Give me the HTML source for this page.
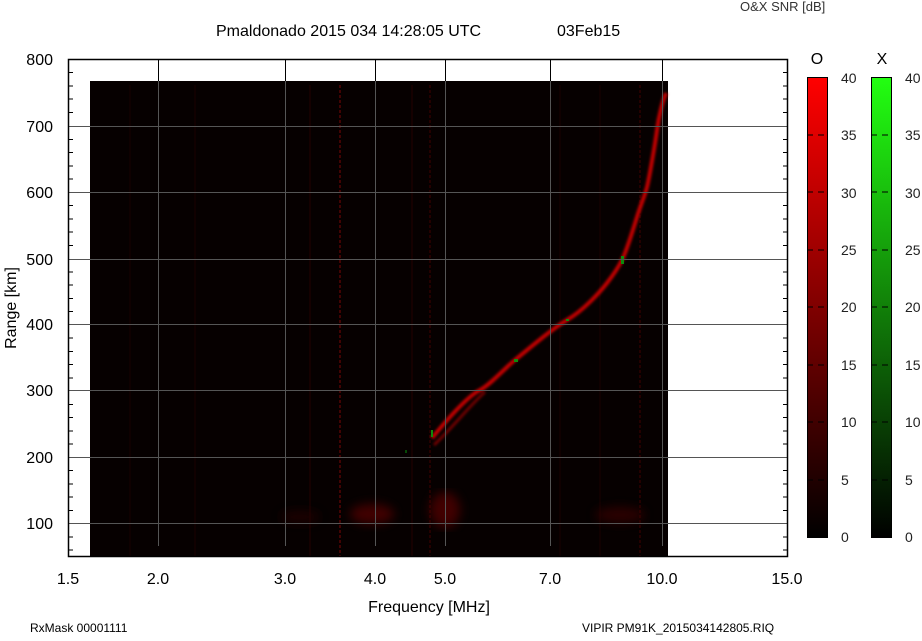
<!DOCTYPE html>
<html><head><meta charset="utf-8"><style>
body{margin:0;background:#fff;}
svg text{font-family:"Liberation Sans",Arial,sans-serif;}
</style></head><body>
<svg width="922" height="636" viewBox="0 0 922 636" xmlns="http://www.w3.org/2000/svg">
<defs>
<linearGradient id="gr" x1="0" y1="1" x2="0" y2="0"><stop offset="0" stop-color="#000"/><stop offset="1" stop-color="#ff0000"/></linearGradient>
<linearGradient id="gg" x1="0" y1="1" x2="0" y2="0"><stop offset="0" stop-color="#000"/><stop offset="1" stop-color="#22ff11"/></linearGradient>
<filter id="bl"><feGaussianBlur stdDeviation="1.2"/></filter>
<filter id="bl2"><feGaussianBlur stdDeviation="5"/></filter>
</defs>
<text x="216" y="36" font-size="16">Pmaldonado 2015 034 14:28:05 UTC</text>
<text x="557" y="36" font-size="16">03Feb15</text>
<text x="740" y="11" font-size="13" fill="#333">O&amp;X SNR [dB]</text>
<rect x="90" y="81" width="578" height="476" fill="#060000"/>
<g stroke-width="2" opacity="0.6">
<line x1="340" y1="85" x2="340" y2="557" stroke="#6a0505" stroke-dasharray="3,2"/>
<line x1="430" y1="85" x2="430" y2="557" stroke="#3a0000" stroke-dasharray="3,2"/>
<line x1="640" y1="85" x2="640" y2="557" stroke="#3a0000" stroke-dasharray="3,2"/>
<line x1="310" y1="85" x2="310" y2="557" stroke="#200000"/>
<line x1="412" y1="85" x2="412" y2="557" stroke="#200000"/>
<line x1="195" y1="85" x2="195" y2="557" stroke="#180000"/>
<line x1="130" y1="85" x2="130" y2="557" stroke="#150000"/>
<line x1="560" y1="85" x2="560" y2="557" stroke="#180000"/>
<line x1="600" y1="85" x2="600" y2="557" stroke="#180000"/>
</g>
<g filter="url(#bl2)" fill="#5a0000" opacity="0.7">
<ellipse cx="372" cy="514" rx="22" ry="10"/>
<ellipse cx="445" cy="510" rx="15" ry="18"/>
<ellipse cx="620" cy="515" rx="25" ry="8" fill="#3a0000"/>
<ellipse cx="300" cy="517" rx="20" ry="6" fill="#250000"/>
</g>
<g filter="url(#bl)" fill="none" stroke="#c00000" stroke-width="4">
<path d="M432 438 C455 410 470 395 480 390 S505 368 515 360 S550 330 567 320 S600 292 607 283 S618 268 622 260 S633 230 637 217 S645 195 647 187 S655 145 657 130 S663 100 666 93"/>
<path d="M434 445 C455 425 470 405 485 392" stroke="#700000" stroke-width="3"/>
</g>
<g fill="#0c8a0c">
<rect x="431" y="430" width="2" height="7"/><rect x="514" y="359" width="4" height="3"/><rect x="566" y="319" width="3" height="2"/><rect x="621" y="256" width="3" height="8"/><rect x="405" y="450" width="2" height="3" fill="#064a06"/>
</g>
<g stroke="#555" stroke-width="1">
<line x1="158.5" y1="59" x2="158.5" y2="546"/><line x1="285.5" y1="59" x2="285.5" y2="546"/><line x1="375.5" y1="59" x2="375.5" y2="546"/><line x1="445.5" y1="59" x2="445.5" y2="546"/><line x1="550.5" y1="59" x2="550.5" y2="546"/><line x1="662.5" y1="59" x2="662.5" y2="546"/>
<line x1="68" y1="126.5" x2="788" y2="126.5"/><line x1="68" y1="192.5" x2="788" y2="192.5"/><line x1="68" y1="259.5" x2="788" y2="259.5"/><line x1="68" y1="324.5" x2="788" y2="324.5"/><line x1="68" y1="390.5" x2="788" y2="390.5"/><line x1="68" y1="457.5" x2="788" y2="457.5"/><line x1="68" y1="523.5" x2="788" y2="523.5"/>
</g>
<g stroke="#000" stroke-width="1">
<line x1="158.5" y1="59" x2="158.5" y2="81"/><line x1="285.5" y1="59" x2="285.5" y2="81"/><line x1="375.5" y1="59" x2="375.5" y2="81"/><line x1="445.5" y1="59" x2="445.5" y2="81"/><line x1="550.5" y1="59" x2="550.5" y2="81"/><line x1="662.5" y1="59" x2="662.5" y2="81"/>
</g>
<rect x="68.5" y="59.5" width="719" height="497" fill="none" stroke="#000" stroke-width="1.5"/>
<g stroke="#000" stroke-width="1">
<path d="M68 72.5h5M68 86h5M68 99h5M68 112.5h5M68 139.5h5M68 152.5h5M68 166h5M68 179h5M68 205.5h5M68 219h5M68 232h5M68 245.5h5M68 272h5M68 285h5M68 298.5h5M68 311.5h5M68 338h5M68 351.5h5M68 364.5h5M68 378h5M68 404.5h5M68 417.5h5M68 431h5M68 444h5M68 470.5h5M68 484h5M68 497h5M68 510.5h5M68 537h5M68 550h5"/>
<path d="M783 72.5h5M783 86h5M783 99h5M783 112.5h5M783 139.5h5M783 152.5h5M783 166h5M783 179h5M783 205.5h5M783 219h5M783 232h5M783 245.5h5M783 272h5M783 285h5M783 298.5h5M783 311.5h5M783 338h5M783 351.5h5M783 364.5h5M783 378h5M783 404.5h5M783 417.5h5M783 431h5M783 444h5M783 470.5h5M783 484h5M783 497h5M783 510.5h5M783 537h5M783 550h5"/>
</g>
<g font-size="16" text-anchor="end">
<text x="53" y="65">800</text><text x="53" y="132">700</text><text x="53" y="198">600</text><text x="53" y="265">500</text><text x="53" y="330">400</text><text x="53" y="396">300</text><text x="53" y="463">200</text><text x="53" y="529">100</text>
</g>
<text transform="translate(16 308) rotate(-90)" font-size="16" text-anchor="middle">Range [km]</text>
<g font-size="16" text-anchor="middle">
<text x="68" y="584">1.5</text><text x="158" y="584">2.0</text><text x="285" y="584">3.0</text><text x="375" y="584">4.0</text><text x="445" y="584">5.0</text><text x="550" y="584">7.0</text><text x="662" y="584">10.0</text><text x="787" y="584">15.0</text>
<text x="429" y="612">Frequency [MHz]</text>
</g>
<text x="30" y="632" font-size="12">RxMask 00001111</text>
<text x="582" y="632" font-size="12">VIPIR  PM91K_2015034142805.RIQ</text>
<text x="817" y="64" font-size="16" text-anchor="middle">O</text>
<text x="882" y="64" font-size="16" text-anchor="middle">X</text>
<rect x="807.5" y="77.5" width="20" height="460" fill="url(#gr)" stroke="#000"/>
<rect x="871.5" y="77.5" width="20" height="460" fill="url(#gg)" stroke="#000"/>
<g stroke="#000" stroke-dasharray="6,5">
<path d="M807 135h20M807 192h20M807 250h20M807 307h20M807 365h20M807 422h20M807 480h20"/>
<path d="M871 135h20M871 192h20M871 250h20M871 307h20M871 365h20M871 422h20M871 480h20"/>
</g>
<g font-size="14" fill="#222">
<text x="841" y="83">40</text><text x="841" y="140">35</text><text x="841" y="198">30</text><text x="841" y="255">25</text><text x="841" y="312">20</text><text x="841" y="370">15</text><text x="841" y="427">10</text><text x="841" y="485">5</text><text x="841" y="542">0</text>
<text x="905" y="83">40</text><text x="905" y="140">35</text><text x="905" y="198">30</text><text x="905" y="255">25</text><text x="905" y="312">20</text><text x="905" y="370">15</text><text x="905" y="427">10</text><text x="905" y="485">5</text><text x="905" y="542">0</text>
</g>
</svg>
</body></html>
